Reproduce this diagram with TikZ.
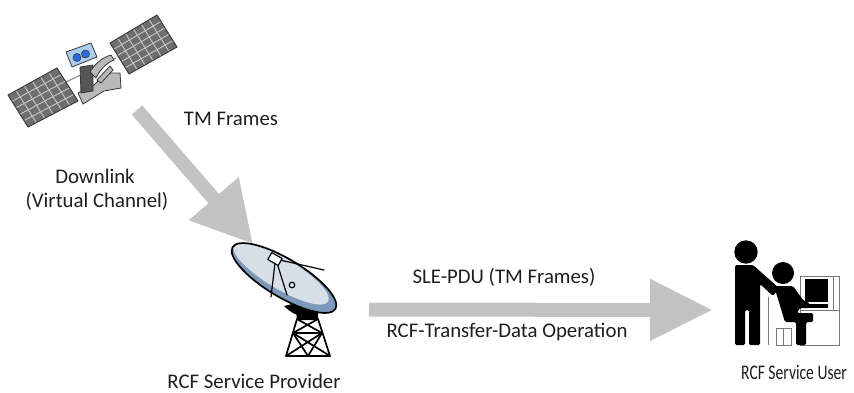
\documentclass[tikz,border=0pt]{standalone}
\usepackage{fontspec}
\setmainfont{Carlito}
\usetikzlibrary{arrows.meta,calc}

\definecolor{arrowgray}{RGB}{195,195,195}
\definecolor{labelcol}{RGB}{30,30,30}
\definecolor{cellgray}{RGB}{110,110,110}
\definecolor{gridgray}{RGB}{200,200,200}
\definecolor{rimgray}{RGB}{55,55,55}
\definecolor{camblue}{RGB}{170,206,242}
\definecolor{lensblue}{RGB}{40,105,230}
\definecolor{bodydark}{RGB}{85,85,85}
\definecolor{bodylight}{RGB}{185,185,185}
\definecolor{dishlight}{RGB}{214,222,232}
\definecolor{dishdark}{RGB}{125,152,184}
\definecolor{furngray}{RGB}{120,120,120}

\begin{document}
\begin{tikzpicture}[x=1pt,y=-1pt,
  lbl/.style={font=\fontsize{20.8}{25}\selectfont, text=labelcol, inner sep=0pt, anchor=base},
  flow/.style 2 args={draw=arrowgray, line width=14pt, -{Triangle[length=#1,width=#2]}},
  panelfill/.style={fill=cellgray},
  panelgrid/.style={draw=gridgray, line width=0.9pt},
  panelrim/.style={draw=rimgray, line width=0.9pt, line join=round},
  partline/.style={draw=rimgray, line width=0.8pt, line join=round},
  dishline/.style={draw=black, line width=1.7pt, line join=round, line cap=round},
  furniture/.style={draw=furngray, line width=0.9pt}]

\useasboundingbox (0,0) rectangle (854,392);

% ---------- satellite ----------
% boom between the two solar wings
\draw[draw=gray, line width=1pt] (66,82) -- (116,58);

% left solar wing
\coordinate (lA) at (8,95);  \coordinate (lB) at (57,68);
\coordinate (lC) at (78,101); \coordinate (lD) at (28,127);
\fill[panelfill] (lA) -- (lB) -- (lC) -- (lD) -- cycle;
\foreach \t in {1,...,5} \draw[panelgrid] ($(lA)!\t/6!(lB)$) -- ($(lD)!\t/6!(lC)$);
\foreach \t in {1,...,4} \draw[panelgrid] ($(lA)!\t/5!(lD)$) -- ($(lB)!\t/5!(lC)$);
\draw[panelrim] (lA) -- (lB) -- (lC) -- (lD) -- cycle;

% right solar wing
\coordinate (rA) at (110,43); \coordinate (rB) at (157,15);
\coordinate (rC) at (177,47); \coordinate (rD) at (129,74);
\fill[panelfill] (rA) -- (rB) -- (rC) -- (rD) -- cycle;
\foreach \t in {1,...,5} \draw[panelgrid] ($(rA)!\t/6!(rB)$) -- ($(rD)!\t/6!(rC)$);
\foreach \t in {1,...,4} \draw[panelgrid] ($(rA)!\t/5!(rD)$) -- ($(rB)!\t/5!(rC)$);
\draw[panelrim] (rA) -- (rB) -- (rC) -- (rD) -- cycle;

% central bus
\fill[bodylight, partline] (78,93) -- (94,85) -- (107,73) -- (120,73) -- (121,88)
  -- (104,91) -- (83,104) -- cycle;
\fill[bodydark, partline] (80,67) -- (93,65) -- (93,91) -- (81,93) -- cycle;
\fill[bodylight, partline] (90,72) .. controls (96,62) and (104,57) .. (111,55)
  -- (114,60) .. controls (106,63) and (100,70) .. (96,78) -- cycle;
\fill[bodylight, partline] (97,80) -- (110,66) -- (113,70) -- (101,83) -- cycle;
% instrument head with two lenses
\fill[camblue, partline] (66,52) -- (91,43) -- (97,57) -- (72,67) -- cycle;
\fill[lensblue, draw=rimgray, line width=0.6pt] (77,57.5) circle (4);
\fill[lensblue, draw=rimgray, line width=0.6pt] (85.5,54) circle (4);

% ---------- ground-station antenna ----------
% back of the reflector
\fill[black] (284,306) .. controls (294,316) and (304,319) .. (318,312) -- (320,297) -- cycle;
% tower
\fill[black] (296,311) -- (318,309) -- (318,320) -- (297,320) -- cycle;
\draw[dishline] (297,319) -- (286,356) -- (330,356) -- (318,319);
\draw[dishline] (293,333) -- (322,333);
\draw[dishline] (297,319) -- (322,333) (318,319) -- (293,333);
\draw[dishline] (293,333) -- (330,356) (322,333) -- (286,356);
\draw[dishline] (293,333) -- (308,356) -- (322,333);
% reflector
\begin{scope}
  \clip[rotate around={-31:(284,278)}] (284,278) ellipse [x radius=60, y radius=19];
  \fill[dishdark] (215,225) rectangle (355,325);
  \fill[dishlight, rotate around={-31:(284,278)}] (279,275.5) ellipse [x radius=55, y radius=15.5];
\end{scope}
\draw[dishline, rotate around={-31:(284,278)}] (284,278) ellipse [x radius=60, y radius=19];
% feed and its struts
\draw[dishline, line width=1.2pt] (275,263) -- (271,297);
\draw[dishline, line width=1.2pt] (277,263) -- (287,295);
\draw[dishline, line width=1.2pt] (280,260) -- (324,270);
\fill[white, dishline, line width=1.2pt, rotate around={-30:(275,259)}] (269,255) rectangle (281,263);
\draw[dishline, line width=1.1pt, fill=dishlight] (292,285) circle (2.8);

% ---------- operator at workstation ----------
% desk and chair outlines
\draw[furniture] (800.5,276) rectangle (839.5,345);
\draw[furniture] (800.5,310) -- (839.5,310);
\draw[furniture] (833,276) -- (833,310);
\draw[furniture] (768.5,297) -- (768.5,345);
\draw[furniture] (776,328) rectangle (791,345);
\draw[furniture] (783.5,328) -- (783.5,345);
% monitor and keyboard
\fill[black] (805,279) rectangle (828,302);
\fill[black] (806,303.5) rectangle (828,308);
% standing person
\fill[black] (746,252) circle (11.7);
\fill[black, rounded corners=1.5pt] (735,265) -- (753,265) -- (779,288) -- (773,296)
  -- (760,284) -- (760,345) -- (749,345) -- (749,310) -- (745,310) -- (745,345)
  -- (735,345) -- cycle;
% seated person
\fill[black] (783,273) circle (11);
\fill[black, rounded corners=1.5pt] (774,286) -- (793,286) -- (803,300) -- (810,303.5)
  -- (810,308) -- (800,308) -- (797,313) -- (813,313) -- (813,322) -- (806,322)
  -- (806,345) -- (796,345) -- (796,322) -- (785,322) -- cycle;

% ---------- data flows ----------
\coordinate (dlstart) at (137,110);
\coordinate (dlend) at (253,244);
\coordinate (linkstart) at (369,309.5);
\coordinate (linkend) at (713,310);
\draw[flow={60pt}{62pt}] (dlstart) -- (dlend);
\draw[flow={63pt}{58pt}] (linkstart) -- (linkend);

% ---------- labels ----------
\node[lbl] (tmlbl) at (231,125) {TM Frames};
\node[lbl] (dllbl) at (95,183) {Downlink};
\node[lbl] (vclbl) at (97,207) {(Virtual Channel)};
\node[lbl] (slelbl) at (504,283) {SLE-PDU (TM Frames)};
\node[lbl] (oplbl) at (507,337) {RCF-Transfer-Data Operation};
\node[lbl] (provlbl) at (254,388.5) {RCF Service Provider};
\node[lbl] (userlbl) at (794,379.5) {\scalebox{0.75}[1]{RCF Service User}};
\end{tikzpicture}
\end{document}
